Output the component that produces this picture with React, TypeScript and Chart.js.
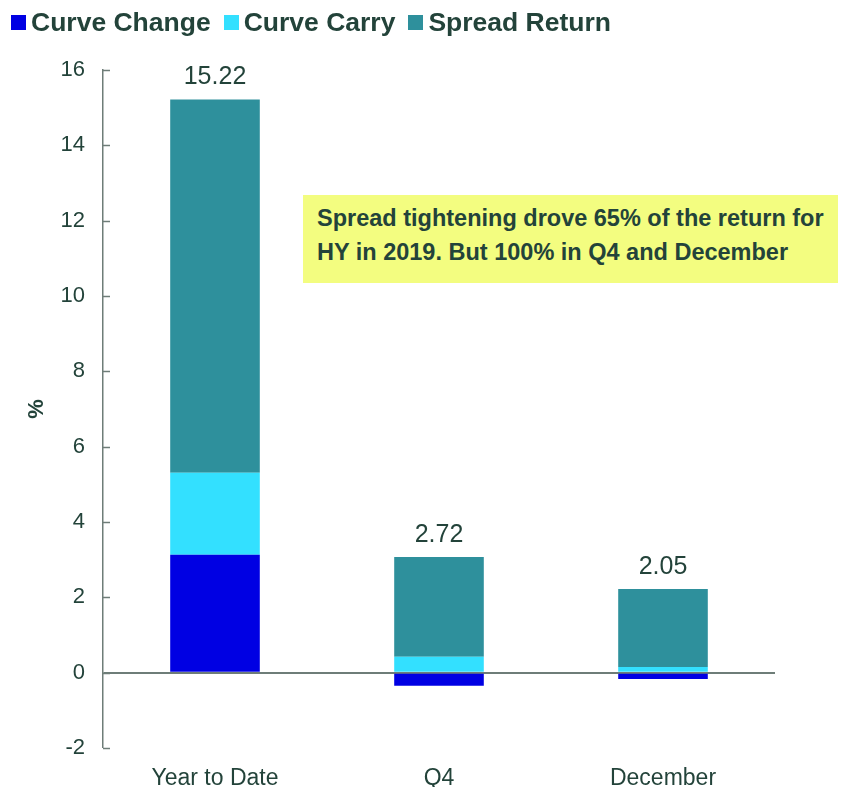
import React, { useEffect, useRef } from "react";
import { Chart, registerables } from "chart.js";

Chart.register(...registerables);

const categories = ["Year to Date", "Q4", "December"];
const curveChange = [3.13, -0.35, -0.17];
const curveCarry = [2.18, 0.42, 0.15];
const spreadReturn = [9.91, 2.65, 2.07];
const totals = ["15.22", "2.72", "2.05"];
const yTicks = [-2, 0, 2, 4, 6, 8, 10, 12, 14, 16];

const seriesNames = ["Curve Change", "Curve Carry", "Spread Return"];
const seriesColors = ["#0000e3", "#33e0ff", "#2e909c"];
const annotationLines = [
  "Spread tightening drove 65% of the return for",
  "HY in 2019. But 100% in Q4 and December",
];

const TEXT = "#23433a";
const AXIS = "#6e7d78";
const FONT = '"Liberation Sans", Arial, sans-serif';

const labelPlugin = {
  id: "totalsLabels",
  afterDatasetsDraw(chart: any) {
    const ctx = chart.ctx;
    const meta = chart.getDatasetMeta(chart.data.datasets.length - 1);
    ctx.save();
    ctx.font = `25px ${FONT}`;
    ctx.fillStyle = TEXT;
    ctx.textAlign = "center";
    ctx.textBaseline = "middle";
    meta.data.forEach((bar: any, i: number) => {
      ctx.fillText(totals[i], bar.x, bar.y - 22);
    });
    ctx.restore();
  },
};

const innerTicksPlugin = {
  id: "innerTicks",
  afterDraw(chart: any) {
    const ctx = chart.ctx;
    const y = chart.scales.y;
    ctx.save();
    ctx.strokeStyle = AXIS;
    ctx.lineWidth = 1.5;
    y.ticks.forEach((t: any) => {
      const py = Math.round(y.getPixelForValue(t.value)) + 0.5;
      ctx.beginPath();
      ctx.moveTo(y.right, py);
      ctx.lineTo(y.right + 7, py);
      ctx.stroke();
    });
    ctx.restore();
  },
};

export default function App() {
  const ref = useRef<HTMLCanvasElement>(null);

  useEffect(() => {
    document.body.style.margin = "0";
    const chart = new Chart(ref.current!, {
      type: "bar",
      data: {
        labels: categories,
        datasets: [curveChange, curveCarry, spreadReturn].map((d, i) => ({
          label: seriesNames[i],
          data: d,
          backgroundColor: seriesColors[i],
          borderWidth: 0,
          barPercentage: 0.4,
          categoryPercentage: 1,
        })),
      },
      options: {
        animation: false,
        responsive: false,
        maintainAspectRatio: false,
        layout: { padding: { top: 70, right: 75, left: 0, bottom: 0 } },
        plugins: { legend: { display: false }, tooltip: { enabled: false } },
        scales: {
          x: {
            stacked: true,
            grid: { display: false },
            border: { display: false },
            ticks: { color: TEXT, font: { family: FONT, size: 23 }, padding: 9 },
            afterFit: (s: any) => {
              s.height = 39;
            },
          },
          y: {
            stacked: true,
            min: -2,
            max: 16,
            afterBuildTicks: (s: any) => {
              s.ticks = yTicks.map((v) => ({ value: v }));
            },
            grid: {
              drawTicks: false,
              color: (c: any) => (c.tick && c.tick.value === 0 ? AXIS : "transparent"),
              lineWidth: (c: any) => (c.tick && c.tick.value === 0 ? 2 : 0),
            },
            border: { display: true, color: AXIS, width: 1.5 },
            ticks: { color: TEXT, font: { family: FONT, size: 22 }, padding: 18 },
            title: {
              display: true,
              text: "%",
              color: TEXT,
              font: { family: FONT, size: 22, weight: "bold" },
              padding: { top: 24, bottom: 0 },
            },
            afterFit: (s: any) => {
              s.width = 103;
            },
          },
        },
      },
      plugins: [labelPlugin, innerTicksPlugin],
    } as any);
    return () => chart.destroy();
  }, []);

  return (
    <div style={{ position: "relative", width: 850, height: 787, fontFamily: FONT }}>
      <canvas ref={ref} width={850} height={787} style={{ position: "absolute", left: 0, top: 0 }} />
      <div
        style={{
          position: "absolute",
          left: 11,
          top: 8,
          display: "flex",
          alignItems: "center",
          fontSize: 26.5,
          fontWeight: "bold",
          color: TEXT,
          lineHeight: "28px",
          whiteSpace: "nowrap",
        }}
      >
        {seriesNames.map((n, i) => (
          <div key={n} style={{ display: "flex", alignItems: "center", marginRight: 13 }}>
            <span
              style={{
                display: "inline-block",
                width: 15,
                height: 15,
                background: seriesColors[i],
                marginRight: 5,
              }}
            />
            <span>{n}</span>
          </div>
        ))}
      </div>
      <div
        style={{
          position: "absolute",
          left: 303,
          top: 195,
          width: 535,
          height: 88,
          boxSizing: "border-box",
          background: "#f3fd80",
          padding: "6px 0 0 14px",
          fontSize: 23.5,
          fontWeight: "bold",
          color: TEXT,
          lineHeight: "34px",
          whiteSpace: "nowrap",
        }}
      >
        {annotationLines.map((l) => (
          <div key={l}>{l}</div>
        ))}
      </div>
    </div>
  );
}
